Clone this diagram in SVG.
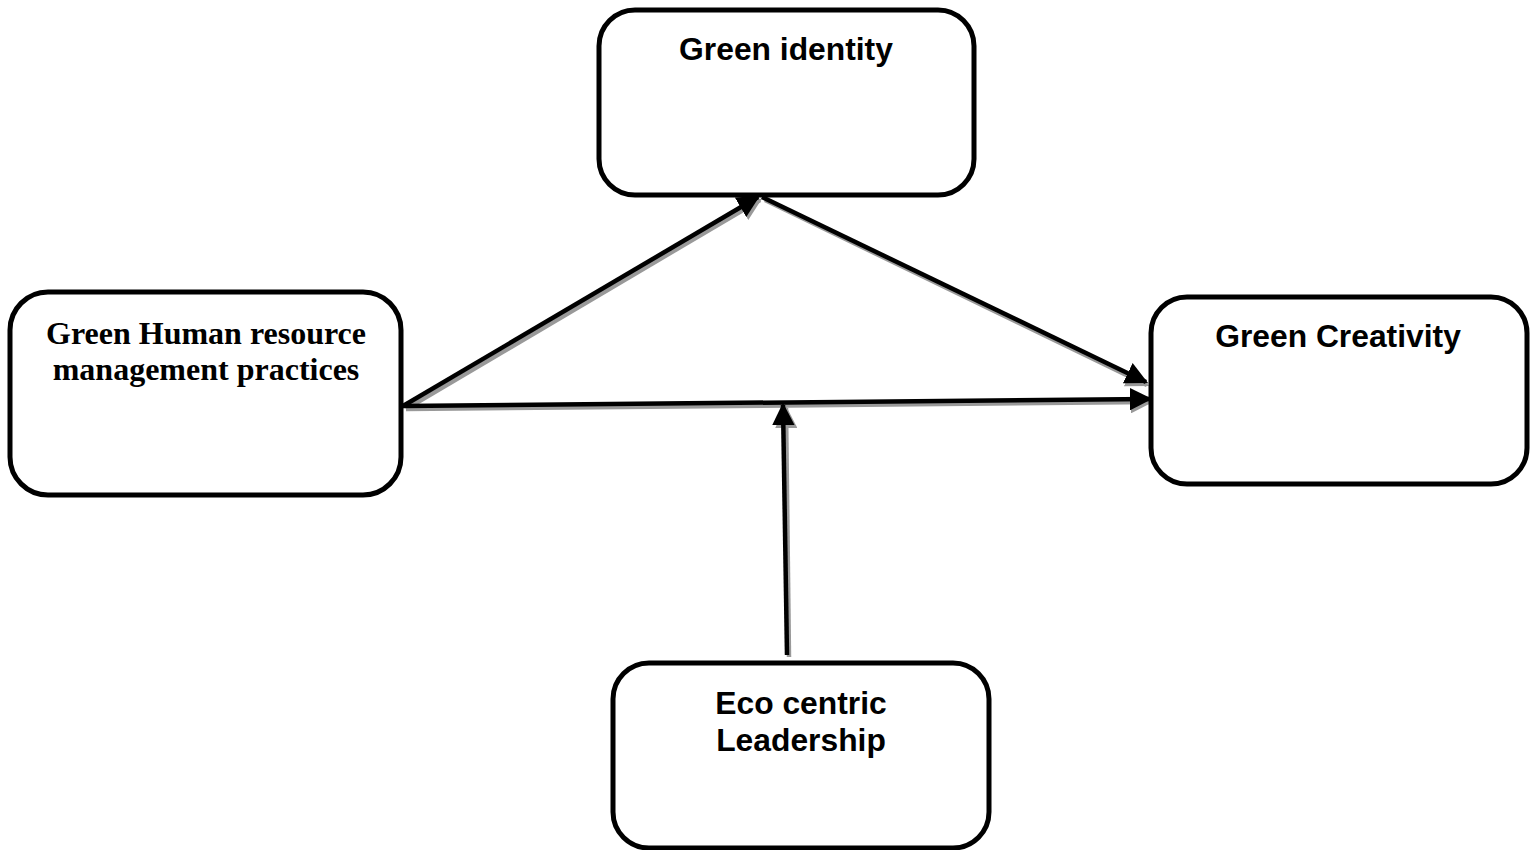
<svg xmlns="http://www.w3.org/2000/svg" width="1534" height="850" viewBox="0 0 1534 850">
<style>
.box{fill:#fff;stroke:#000;stroke-width:5}
.sans{font-family:"Liberation Sans",Arial,sans-serif;font-weight:bold;font-size:31.8px;text-anchor:middle;fill:#000}
.serif{font-family:"Liberation Serif","Times New Roman",serif;font-weight:bold;font-size:32px;text-anchor:middle;fill:#000}
.ln{stroke:#000;stroke-width:4.5;fill:none}
.sh{stroke:#999;stroke-width:4.5;fill:none}
</style>
<defs>
<marker id="ah" viewBox="0 0 10 10" refX="9" refY="5" markerWidth="5" markerHeight="5" orient="auto" markerUnits="strokeWidth"><path d="M0,0 L10,5 L0,10 z" fill="#000"/></marker>
<marker id="ahs" viewBox="0 0 10 10" refX="9" refY="5" markerWidth="5" markerHeight="5" orient="auto" markerUnits="strokeWidth"><path d="M0,0 L10,5 L0,10 z" fill="#999"/></marker>
</defs>
<rect width="1534" height="850" fill="#fff"/>
<g id="connectors">
<line class="sh" x1="406" y1="409" x2="760" y2="200" marker-end="url(#ahs)"/>
<line class="sh" x1="765" y1="200" x2="1147" y2="385" marker-end="url(#ahs)"/>
<line class="sh" x1="406" y1="409" x2="1151" y2="402" marker-end="url(#ahs)"/>
<line class="sh" x1="789" y1="657" x2="786" y2="408" marker-end="url(#ahs)"/>
<line class="ln" x1="403" y1="406" x2="758" y2="197" marker-end="url(#ah)"/>
<line class="ln" x1="762" y1="197" x2="1146" y2="382" marker-end="url(#ah)"/>
<line class="ln" x1="403" y1="406" x2="1150" y2="399" marker-end="url(#ah)"/>
<line class="ln" x1="787" y1="655" x2="783" y2="405" marker-end="url(#ah)"/>
</g>
<g id="node-green-identity">
<rect class="box" x="599" y="10" width="375" height="185" rx="36"/>
<text class="sans" x="786" y="60">Green identity</text>
</g>
<g id="node-ghrm">
<rect class="box" x="10" y="292" width="391" height="203" rx="38"/>
<text class="serif" x="206" y="344">Green Human resource</text>
<text class="serif" x="206" y="380">management practices</text>
</g>
<g id="node-green-creativity">
<rect class="box" x="1151" y="297" width="376" height="187" rx="36"/>
<text class="sans" x="1338" y="347">Green Creativity</text>
</g>
<g id="node-eco">
<rect class="box" x="613" y="663" width="376" height="185" rx="36"/>
<text class="sans" x="801" y="714">Eco centric</text>
<text class="sans" x="801" y="751">Leadership</text>
</g>
</svg>
